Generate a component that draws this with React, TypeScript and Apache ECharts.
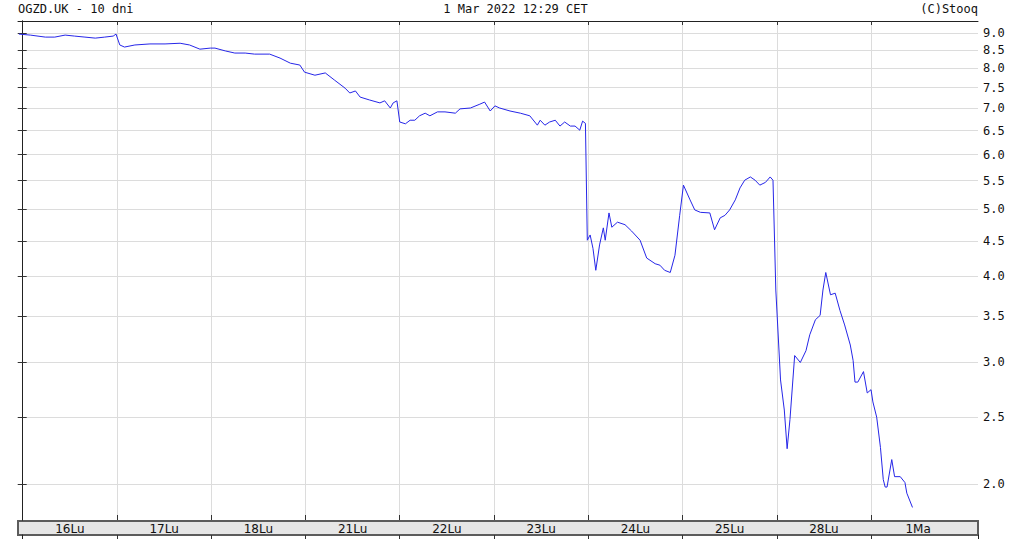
import React, { useEffect, useRef } from "react";
import * as echarts from "echarts";

const TITLE_LEFT = "OGZD.UK - 10 dni";
const TITLE_CENTER = "1 Mar 2022 12:29 CET";
const TITLE_RIGHT = "(C)Stooq";

const DAY_LABELS = ["16Lu", "17Lu", "18Lu", "21Lu", "22Lu", "23Lu", "24Lu", "25Lu", "28Lu", "1Ma"];
const DAY_BOUNDS = [1, 2, 3, 4, 5, 6, 7, 8, 9];
const DAY_LABEL_POS = [0.5, 1.5, 2.5, 3.5, 4.5, 5.5, 6.5, 7.5, 8.5, 9.5];

const Y_TICKS = [2.0, 2.5, 3.0, 3.5, 4.0, 4.5, 5.0, 5.5, 6.0, 6.5, 7.0, 7.5, 8.0, 8.5, 9.0];
const PRICE_MIN = 1.774;
const PRICE_MAX = 9.37;
const X_MIN = -0.05;
const X_MAX = 10.135;

// time in trading-day units (0 = start of 16Lu)
const TIME = [
  -0.04, 0.08, 0.24, 0.34, 0.45, 0.55, 0.66, 0.77, 0.87, 0.96, 0.99,
  1.03, 1.08, 1.19, 1.35, 1.51, 1.67, 1.77, 1.88, 1.99,
  2.04, 2.15, 2.25, 2.36, 2.46, 2.62, 2.73, 2.84, 2.94, 2.99,
  3.10, 3.21, 3.31, 3.42, 3.47, 3.53, 3.58, 3.68, 3.79, 3.84, 3.90, 3.93, 3.97,
  4.00, 4.06, 4.11, 4.16, 4.21, 4.27, 4.32, 4.40, 4.48, 4.59, 4.64, 4.75, 4.85, 4.90, 4.96,
  5.01, 5.06, 5.17, 5.28, 5.38, 5.46, 5.49, 5.54, 5.59, 5.65, 5.70, 5.75, 5.81, 5.86, 5.91, 5.94, 5.97,
  5.99, 6.02, 6.05, 6.08, 6.12, 6.16, 6.18, 6.22, 6.25, 6.31, 6.39, 6.46, 6.55, 6.62, 6.71, 6.76, 6.81, 6.87, 6.92, 6.97,
  7.01, 7.08, 7.13, 7.19, 7.29, 7.34, 7.40, 7.45, 7.50, 7.56, 7.61, 7.66, 7.72, 7.77, 7.82, 7.88, 7.93, 7.96,
  7.99, 8.04, 8.08, 8.11, 8.14, 8.19, 8.25, 8.31, 8.35, 8.41, 8.46, 8.49, 8.52, 8.57, 8.62, 8.67, 8.72, 8.78, 8.81, 8.83, 8.86, 8.92, 8.96,
  9.00, 9.02, 9.06, 9.10, 9.13, 9.15, 9.17, 9.22, 9.25, 9.31, 9.36, 9.38, 9.44,
];

const PRICE = [
  8.97, 8.94, 8.88, 8.88, 8.94, 8.91, 8.88, 8.85, 8.88, 8.91, 8.97,
  8.65, 8.59, 8.65, 8.68, 8.68, 8.70, 8.65, 8.53, 8.56,
  8.56, 8.48, 8.42, 8.42, 8.39, 8.39, 8.28, 8.14, 8.09, 7.90,
  7.82, 7.88, 7.69, 7.49, 7.37, 7.42, 7.27, 7.20, 7.13, 7.18, 7.01, 7.13, 7.18,
  6.69, 6.65, 6.73, 6.73, 6.83, 6.89, 6.83, 6.92, 6.92, 6.89, 6.99, 7.01, 7.10, 7.15, 6.94,
  7.06, 7.01, 6.94, 6.89, 6.83, 6.62, 6.73, 6.62, 6.69, 6.73, 6.60, 6.69, 6.60, 6.60, 6.51, 6.71, 6.66,
  4.51, 4.59, 4.39, 4.08, 4.44, 4.70, 4.51, 4.94, 4.71, 4.79, 4.75, 4.65, 4.51, 4.25, 4.17, 4.15, 4.08, 4.05, 4.29, 4.90,
  5.42, 5.16, 4.99, 4.95, 4.94, 4.67, 4.86, 4.90, 4.99, 5.16, 5.37, 5.51, 5.57, 5.51, 5.42, 5.47, 5.57, 5.51,
  3.82, 2.83, 2.56, 2.25, 2.48, 3.07, 3.00, 3.12, 3.29, 3.46, 3.51, 3.82, 4.05, 3.76, 3.78, 3.57, 3.40, 3.18, 3.02, 2.81, 2.81, 2.91, 2.71,
  2.74, 2.63, 2.50, 2.26, 2.03, 1.98, 1.98, 2.17, 2.05, 2.05, 2.01, 1.94, 1.85,
];

const MONO = "'DejaVu Sans Mono', 'Liberation Mono', monospace";
const SANS = "'DejaVu Sans', 'Liberation Sans', sans-serif";

export default function App() {
  const ref = useRef<HTMLDivElement>(null);

  useEffect(() => {
    if (!ref.current) return;
    const chart = echarts.init(ref.current, undefined, { renderer: "svg" });
    const yLog = Y_TICKS.map((v) => Math.log(v));
    const yMin = Math.log(PRICE_MIN);
    const yMax = Math.log(PRICE_MAX);
    const data = TIME.map((t, i) => [t, Math.log(PRICE[i])]);

    chart.setOption({
      animation: false,
      backgroundColor: "#ffffff",
      grid: [
        { left: 18, right: 53, top: 21, bottom: 19 },
        { left: 18, right: 53, top: 535, bottom: 0 },
      ],
      xAxis: [
        {
          type: "value",
          gridIndex: 0,
          position: "bottom",
          min: X_MIN,
          max: X_MAX,
          axisLine: { show: false },
          axisTick: { show: true, inside: true, length: 5, customValues: DAY_BOUNDS, lineStyle: { color: "#333" } },
          axisLabel: {
            customValues: DAY_LABEL_POS,
            formatter: (v: number) => DAY_LABELS[Math.floor(v)] ?? "",
            margin: 3,
            fontSize: 12,
            fontFamily: SANS,
            color: "#111",
          },
          splitLine: { show: true, lineStyle: { color: "#dcdcdc", width: 1 } },
        },
        {
          type: "value",
          gridIndex: 0,
          position: "top",
          min: X_MIN,
          max: X_MAX,
          axisLine: { show: true, lineStyle: { color: "#222", width: 1 } },
          axisTick: { show: true, inside: true, length: 4, customValues: DAY_BOUNDS, lineStyle: { color: "#333" } },
          axisLabel: { show: false },
          splitLine: { show: false },
        },
        {
          type: "value",
          gridIndex: 1,
          position: "bottom",
          min: X_MIN,
          max: X_MAX,
          axisLine: { show: false },
          axisTick: { show: true, inside: true, length: 4, customValues: DAY_BOUNDS, lineStyle: { color: "#333" } },
          axisLabel: { show: false },
          splitLine: { show: false },
        },
      ],
      yAxis: [
        {
          type: "value",
          gridIndex: 0,
          position: "right",
          min: yMin,
          max: yMax,
          axisLine: { show: true, lineStyle: { color: "#222", width: 1 } },
          axisTick: { show: true, inside: true, length: 5, customValues: yLog, lineStyle: { color: "#333" } },
          axisLabel: {
            customValues: yLog,
            formatter: (v: number) => Math.exp(v).toFixed(1),
            margin: 5,
            fontSize: 12,
            fontFamily: MONO,
            color: "#111",
          },
          splitLine: { show: true, lineStyle: { color: "#dcdcdc", width: 1 } },
        },
        {
          type: "value",
          gridIndex: 0,
          position: "left",
          min: yMin,
          max: yMax,
          axisLine: { show: true, lineStyle: { color: "#222", width: 1 } },
          axisTick: { show: true, inside: true, length: 4, customValues: yLog, lineStyle: { color: "#333" } },
          axisLabel: { show: false },
          splitLine: { show: false },
        },
        {
          type: "value",
          gridIndex: 1,
          position: "left",
          min: 0,
          max: 1,
          axisLine: { show: true, lineStyle: { color: "#222", width: 1 } },
          axisTick: { show: false },
          axisLabel: { show: false },
          splitLine: { show: false },
        },
        {
          type: "value",
          gridIndex: 1,
          position: "right",
          min: 0,
          max: 1,
          axisLine: { show: true, lineStyle: { color: "#222", width: 1 } },
          axisTick: { show: false },
          axisLabel: { show: false },
          splitLine: { show: false },
        },
      ],
      graphic: [
        {
          type: "rect",
          z: -1,
          shape: { x: 18, y: 521, width: 960, height: 14 },
          style: { fill: "#e6e6e6", stroke: "#5c5c5c", lineWidth: 2 },
        },
        {
          type: "text",
          left: 18,
          top: 3,
          style: { text: TITLE_LEFT, font: `12px ${MONO}`, fill: "#111" },
        },
        {
          type: "text",
          left: "center",
          top: 3,
          style: { text: TITLE_CENTER, font: `12px ${MONO}`, fill: "#111" },
        },
        {
          type: "text",
          right: 53,
          top: 3,
          style: { text: TITLE_RIGHT, font: `12px ${MONO}`, fill: "#111" },
        },
      ],
      series: [
        {
          type: "line",
          xAxisIndex: 0,
          yAxisIndex: 0,
          data,
          showSymbol: false,
          symbol: "none",
          lineStyle: { color: "#2626e8", width: 1 },
          clip: true,
        },
      ],
    });
    return () => chart.dispose();
  }, []);

  return (
    <div
      ref={ref}
      style={{ position: "fixed", left: 0, top: 0, width: 1031, height: 539, background: "#fff" }}
    />
  );
}
